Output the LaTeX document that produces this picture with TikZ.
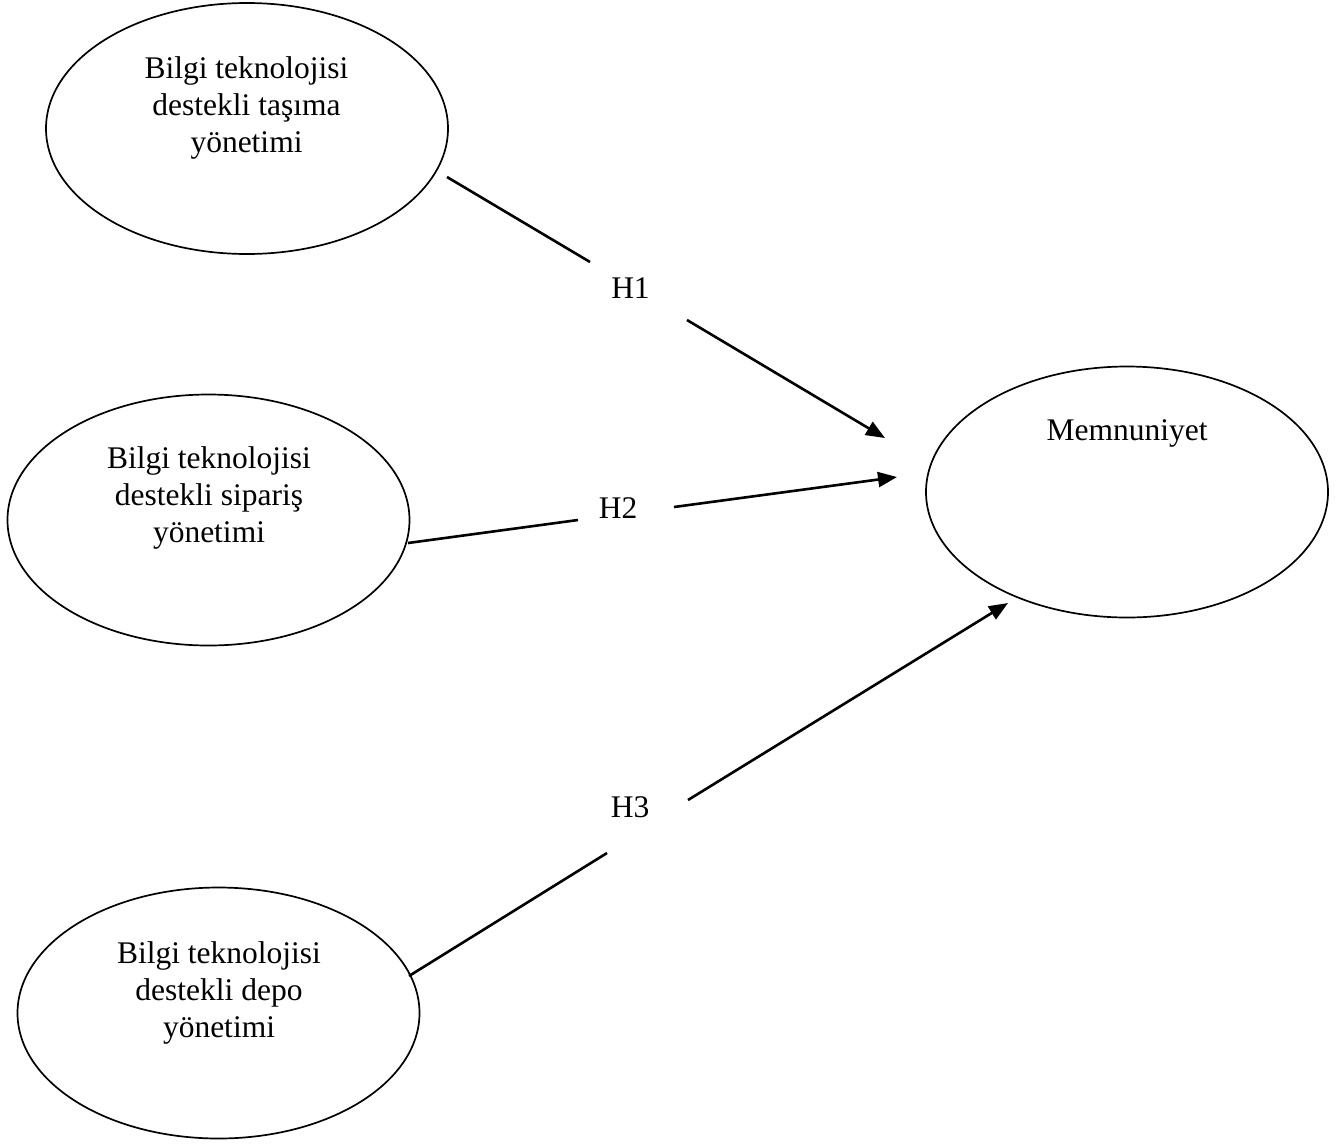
\documentclass[tikz,border=0pt]{standalone}
\usepackage{fontspec}
\setmainfont{Liberation Serif}
\usetikzlibrary{shapes.geometric,arrows.meta}
\begin{document}
\begin{tikzpicture}[x=1pt,y=-1pt,
  oval/.style={draw,ellipse,line width=1.7pt,minimum width=402pt,minimum height=251pt,inner sep=0pt},
  lbl/.style={font=\fontsize{31.5}{37}\selectfont,anchor=base,inner sep=0pt},
  link/.style={line width=2.6pt},
  arr/.style={link,-{Triangle[length=19pt,width=15pt]}}]
\useasboundingbox (0,0) rectangle (1342,1144);
% ellipses
\node[oval] (e1) at (247,128.5) {};
\node[oval] (e2) at (208.5,520) {};
\node[oval] (e3) at (218.5,1013) {};
\node[oval] (m) at (1127,492) {};
% texts
\node[lbl] (t1) at (246.5,78) {\begin{tabular}[t]{@{}c@{}}Bilgi teknolojisi\\destekli taşıma\\yönetimi\end{tabular}};
\node[lbl] (t2) at (209,468) {\begin{tabular}[t]{@{}c@{}}Bilgi teknolojisi\\destekli sipariş\\yönetimi\end{tabular}};
\node[lbl] (t3) at (219,963) {\begin{tabular}[t]{@{}c@{}}Bilgi teknolojisi\\destekli depo\\yönetimi\end{tabular}};
\node[lbl] (tm) at (1127,440) {Memnuniyet};
% hypothesis labels
\node[lbl] (h1) at (630.5,298) {H1};
\node[lbl] (h2) at (618,518) {H2};
\node[lbl] (h3) at (630,817) {H3};
% connector end points
\coordinate (s1) at (447,177);
\coordinate (g1a) at (590,262);
\coordinate (g1b) at (687,320);
\coordinate (p1) at (885,438);
\coordinate (s2) at (408,543);
\coordinate (g2a) at (578,520);
\coordinate (g2b) at (674,507);
\coordinate (p2) at (897,477);
\coordinate (s3) at (409,976);
\coordinate (g3a) at (607,853);
\coordinate (g3b) at (688,800);
\coordinate (p3) at (1008,603);
% connectors
\draw[link] (s1) -- (g1a);
\draw[arr] (g1b) -- (p1);
\draw[link] (s2) -- (g2a);
\draw[arr] (g2b) -- (p2);
\draw[link] (s3) -- (g3a);
\draw[arr] (g3b) -- (p3);
\end{tikzpicture}
\end{document}
